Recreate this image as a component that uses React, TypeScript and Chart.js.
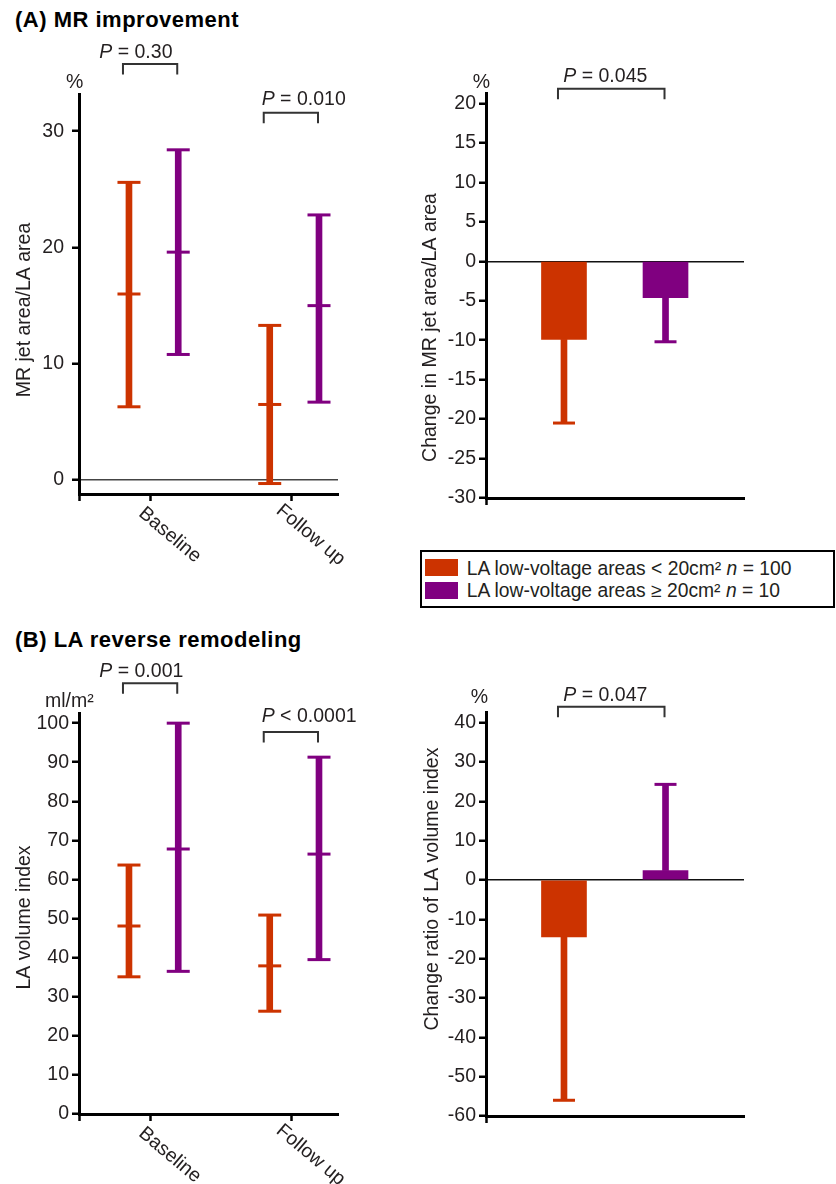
import React, { useEffect, useRef } from 'react';
import { Chart, registerables } from 'chart.js';

Chart.register(...registerables);

const FONT = "'Liberation Sans', Arial, Helvetica, sans-serif";
const ORANGE = '#cc3300';
const PURPLE = '#800080';
const INK = '#231f20';
const TEXT_SIZE = 19.5;

// ---------- data ----------
const timepoints = ['Baseline', 'Follow up'];
const groupLabels = ['LA low-voltage areas < 20cm\u00b2', 'LA low-voltage areas \u2265 20cm\u00b2'];
const groupN = [100, 10];

// (A) MR jet area / LA area (%), mean with SD range
const mrLowMean = [16.0, 6.5];
const mrLowUpper = [25.6, 13.3];
const mrLowLower = [6.3, -0.3];
const mrHighMean = [19.6, 15.0];
const mrHighUpper = [28.4, 22.8];
const mrHighLower = [10.8, 6.7];
const mrPValues = ['= 0.30', '= 0.010'];

// (A) change in MR jet area / LA area (%)
const mrChangeMean = [-9.9, -4.6];
const mrChangeErrEnd = [-20.5, -10.2];
const mrChangeP = '= 0.045';

// (B) LA volume index (ml/m2)
const laviLowMean = [48.1, 37.9];
const laviLowUpper = [63.7, 50.9];
const laviLowLower = [35.1, 26.3];
const laviHighMean = [67.8, 66.5];
const laviHighUpper = [100.0, 91.3];
const laviHighLower = [36.5, 39.5];
const laviPValues = ['= 0.001', '< 0.0001'];

// (B) change ratio of LA volume index (%)
const laviChangeMean = [-14.5, 2.4];
const laviChangeErrEnd = [-56.0, 24.3];
const laviChangeP = '= 0.047';

// tick labels
const mrTicks = [0, 10, 20, 30];
const mrChangeTicks = [20, 15, 10, 5, 0, -5, -10, -15, -20, -25, -30];
const laviTicks = [0, 10, 20, 30, 40, 50, 60, 70, 80, 90, 100];
const laviChangeTicks = [40, 30, 20, 10, 0, -10, -20, -30, -40, -50, -60];

// ---------- layout / style ----------
const LOW_OFFSET = -0.155;
const HIGH_OFFSET = 0.195;

type Box = { x: number; y: number; w: number; h: number };
type Area = { l: number; t: number; r: number; b: number };
type Bracket = { from: number; to: number; top: number; textX: number; textY: number; label: string };
type PanelSpec = {
  canvas: Box;
  area: Area;
  xMin: number;
  xMax: number;
  xTicks: number[];
  yMin: number;
  yMax: number;
  yTicks: number[];
  tickPadding: number;
  zeroLine: string | null;
  datasets: any[];
  yTitle: string;
  yTitleAt: [number, number];
  unit: string;
  unitAt: [number, number];
  brackets: Bracket[];
  categories: { at: number; text: string }[];
};

function rangeDatasets(lower: number[], mean: number[], upper: number[], offset: number, color: string) {
  const xs = timepoints.map((_, i) => i + 1 + offset);
  return [
    {
      type: 'bar',
      data: xs.map((x, i) => ({ x, y: [lower[i], upper[i]] })),
      backgroundColor: color,
      barThickness: 6,
      maxBarThickness: 6,
      grouped: false,
      borderWidth: 0,
      order: 2,
      clip: false,
    },
    {
      type: 'scatter',
      data: xs.flatMap((x, i) => [
        { x, y: upper[i] },
        { x, y: mean[i] },
        { x, y: lower[i] },
      ]),
      pointStyle: 'line',
      pointRadius: 11.5,
      pointBorderWidth: 3,
      pointBorderColor: color,
      pointBackgroundColor: color,
      order: 1,
      clip: false,
    },
  ];
}

function changeDatasets(mean: number[], errEnd: number[]) {
  const xs = [1, 2];
  const colors = [ORANGE, PURPLE];
  return [
    {
      type: 'bar',
      data: xs.map((x, i) => ({ x, y: mean[i] })),
      backgroundColor: colors,
      barThickness: 45,
      maxBarThickness: 45,
      grouped: false,
      borderWidth: 0,
      order: 3,
    },
    {
      type: 'bar',
      data: xs.map((x, i) => ({ x, y: [mean[i], errEnd[i]] })),
      backgroundColor: colors,
      barThickness: 6,
      maxBarThickness: 6,
      grouped: false,
      borderWidth: 0,
      order: 2,
      clip: false,
    },
    {
      type: 'scatter',
      data: xs.map((x, i) => ({ x, y: errEnd[i] })),
      pointStyle: 'line',
      pointRadius: 11,
      pointBorderWidth: 3,
      pointBorderColor: colors,
      pointBackgroundColor: colors,
      order: 1,
      clip: false,
    },
  ];
}

const LEFT_X = { xMin: 0.49, xMax: 2.33 };
const RIGHT_X = { xMin: 0.232, xMax: 2.773 };

const panels: PanelSpec[] = [
  {
    canvas: { x: 0, y: 30, w: 400, h: 550 },
    area: { l: 79, t: 94, r: 338, b: 494 },
    ...LEFT_X,
    xTicks: [LEFT_X.xMin, 1, 2],
    yMin: -1.2,
    yMax: 33.2,
    yTicks: mrTicks,
    tickPadding: 8,
    zeroLine: '#444444',
    datasets: [
      ...rangeDatasets(mrLowLower, mrLowMean, mrLowUpper, LOW_OFFSET, ORANGE),
      ...rangeDatasets(mrHighLower, mrHighMean, mrHighUpper, HIGH_OFFSET, PURPLE),
    ],
    yTitle: 'MR jet area/LA area',
    yTitleAt: [25, 310],
    unit: '%',
    unitAt: [66, 88],
    brackets: [
      { from: 1 + LOW_OFFSET, to: 1 + HIGH_OFFSET, top: 64, textX: 99.3, textY: 58.3, label: mrPValues[0] },
      { from: 2 + LOW_OFFSET, to: 2 + HIGH_OFFSET, top: 112.7, textX: 261.7, textY: 105, label: mrPValues[1] },
    ],
    categories: timepoints.map((t, i) => ({ at: i + 1, text: t })),
  },
  {
    canvas: { x: 400, y: 40, w: 436, h: 500 },
    area: { l: 486, t: 93, r: 744, b: 498 },
    ...RIGHT_X,
    xTicks: [RIGHT_X.xMin],
    yMin: -30,
    yMax: 21.33,
    yTicks: mrChangeTicks,
    tickPadding: 3,
    zeroLine: '#111111',
    datasets: changeDatasets(mrChangeMean, mrChangeErrEnd),
    yTitle: 'Change in MR jet area/LA area',
    yTitleAt: [430.5, 327.5],
    unit: '%',
    unitAt: [472.7, 88.3],
    brackets: [{ from: 1, to: 2, top: 88.7, textX: 563.3, textY: 81.7, label: mrChangeP }],
    categories: [],
  },
  {
    canvas: { x: 0, y: 650, w: 400, h: 534 },
    area: { l: 79, t: 713, r: 338, b: 1114 },
    ...LEFT_X,
    xTicks: [LEFT_X.xMin, 1, 2],
    yMin: 0,
    yMax: 102.6,
    yTicks: laviTicks,
    tickPadding: 3,
    zeroLine: null,
    datasets: [
      ...rangeDatasets(laviLowLower, laviLowMean, laviLowUpper, LOW_OFFSET, ORANGE),
      ...rangeDatasets(laviHighLower, laviHighMean, laviHighUpper, HIGH_OFFSET, PURPLE),
    ],
    yTitle: 'LA volume index',
    yTitleAt: [25, 917.5],
    unit: 'ml/m\u00b2',
    unitAt: [45, 707.3],
    brackets: [
      { from: 1 + LOW_OFFSET, to: 1 + HIGH_OFFSET, top: 683.3, textX: 99.3, textY: 676.7, label: laviPValues[0] },
      { from: 2 + LOW_OFFSET, to: 2 + HIGH_OFFSET, top: 732, textX: 261.7, textY: 722.3, label: laviPValues[1] },
    ],
    categories: timepoints.map((t, i) => ({ at: i + 1, text: t })),
  },
  {
    canvas: { x: 400, y: 650, w: 436, h: 534 },
    area: { l: 486, t: 712, r: 744, b: 1116 },
    ...RIGHT_X,
    xTicks: [RIGHT_X.xMin],
    yMin: -60,
    yMax: 42.7,
    yTicks: laviChangeTicks,
    tickPadding: 3,
    zeroLine: '#111111',
    datasets: changeDatasets(laviChangeMean, laviChangeErrEnd),
    yTitle: 'Change ratio of LA volume index',
    yTitleAt: [433, 889],
    unit: '%',
    unitAt: [470.7, 703.3],
    brackets: [{ from: 1, to: 2, top: 706.7, textX: 563.3, textY: 700.7, label: laviChangeP }],
    categories: [],
  },
];

function makeAnnotator(spec: PanelSpec) {
  return {
    id: 'annotator',
    afterDraw(chart: any) {
      const ctx = chart.ctx as CanvasRenderingContext2D;
      const ox = spec.canvas.x;
      const oy = spec.canvas.y;
      const xs = chart.scales.x;
      const area = chart.chartArea;
      const regular = `${TEXT_SIZE}px ${FONT}`;
      ctx.save();
      ctx.fillStyle = INK;
      ctx.font = regular;

      // y-axis title
      ctx.save();
      ctx.translate(spec.yTitleAt[0] - ox, spec.yTitleAt[1] - oy);
      ctx.rotate(-Math.PI / 2);
      ctx.textAlign = 'center';
      ctx.textBaseline = 'middle';
      ctx.fillText(spec.yTitle, 0, 0);
      ctx.restore();

      // unit label
      ctx.textAlign = 'left';
      ctx.textBaseline = 'alphabetic';
      ctx.fillText(spec.unit, spec.unitAt[0] - ox, spec.unitAt[1] - oy);

      // rotated category labels
      spec.categories.forEach((c) => {
        const px = xs.getPixelForValue(c.at);
        ctx.save();
        ctx.translate(px + 19, area.bottom + 41);
        ctx.rotate((40 * Math.PI) / 180);
        ctx.textAlign = 'center';
        ctx.textBaseline = 'middle';
        ctx.fillText(c.text, 0, 0);
        ctx.restore();
      });

      // significance brackets
      spec.brackets.forEach((b) => {
        const x1 = xs.getPixelForValue(b.from) - 6;
        const x2 = xs.getPixelForValue(b.to) - 1;
        const top = b.top - oy;
        ctx.strokeStyle = '#333333';
        ctx.lineWidth = 2;
        ctx.beginPath();
        ctx.moveTo(x1, top + 10.5);
        ctx.lineTo(x1, top);
        ctx.lineTo(x2, top);
        ctx.lineTo(x2, top + 10.5);
        ctx.stroke();
        const tx = b.textX - ox;
        const ty = b.textY - oy;
        ctx.textAlign = 'left';
        ctx.textBaseline = 'alphabetic';
        ctx.font = `italic ${TEXT_SIZE}px ${FONT}`;
        ctx.fillText('P', tx, ty);
        const w = ctx.measureText('P').width;
        ctx.font = regular;
        ctx.fillText(' ' + b.label, tx + w, ty);
      });
      ctx.restore();
    },
  };
}

function buildConfig(spec: PanelSpec): any {
  const { canvas, area } = spec;
  return {
    type: 'bar',
    data: { datasets: spec.datasets },
    options: {
      responsive: false,
      maintainAspectRatio: false,
      animation: false,
      events: [],
      layout: {
        padding: {
          top: area.t - canvas.y,
          right: canvas.x + canvas.w - area.r,
          left: 0,
          bottom: 0,
        },
      },
      plugins: {
        legend: { display: false },
        tooltip: { enabled: false },
        title: { display: false },
      },
      scales: {
        x: {
          type: 'linear',
          min: spec.xMin,
          max: spec.xMax,
          offset: false,
          afterBuildTicks: (s: any) => {
            s.ticks = spec.xTicks.map((v) => ({ value: v }));
          },
          afterFit: (s: any) => {
            s.height = canvas.y + canvas.h - area.b;
          },
          ticks: { display: false },
          grid: {
            display: true,
            offset: false,
            drawOnChartArea: false,
            drawTicks: true,
            tickLength: 7,
            tickColor: '#000000',
            tickWidth: 2.5,
          },
          border: { display: true, color: '#000000', width: 3 },
        },
        y: {
          type: 'linear',
          min: spec.yMin,
          max: spec.yMax,
          afterBuildTicks: (s: any) => {
            s.ticks = spec.yTicks.map((v) => ({ value: v }));
          },
          afterFit: (s: any) => {
            s.width = area.l - canvas.x;
          },
          ticks: {
            autoSkip: false,
            color: INK,
            padding: spec.tickPadding,
            font: { family: FONT, size: TEXT_SIZE },
            callback: (v: number) => String(v),
          },
          grid: {
            display: true,
            drawOnChartArea: !!spec.zeroLine,
            drawTicks: true,
            tickLength: 7,
            tickColor: '#000000',
            tickWidth: 2.5,
            lineWidth: 1.5,
            color: (c: any) =>
              spec.zeroLine && c.tick && c.tick.value === 0 ? spec.zeroLine : 'rgba(0,0,0,0)',
          },
          border: { display: true, color: '#000000', width: 3 },
        },
      },
    },
    plugins: [makeAnnotator(spec)],
  };
}

function Panel({ spec }: { spec: PanelSpec }) {
  const ref = useRef<HTMLCanvasElement | null>(null);
  useEffect(() => {
    if (!ref.current) return;
    const chart = new Chart(ref.current, buildConfig(spec));
    return () => chart.destroy();
  }, [spec]);
  return (
    <canvas
      ref={ref}
      width={spec.canvas.w}
      height={spec.canvas.h}
      style={{
        position: 'absolute',
        left: spec.canvas.x,
        top: spec.canvas.y,
        width: spec.canvas.w,
        height: spec.canvas.h,
      }}
    />
  );
}

const titleStyle: React.CSSProperties = {
  position: 'absolute',
  left: 15,
  font: `bold 22px ${FONT}`,
  letterSpacing: '0.5px',
  lineHeight: '26px',
  color: '#000000',
  whiteSpace: 'nowrap',
};

const legendText: React.CSSProperties = {
  position: 'absolute',
  left: 44.7,
  font: `19.3px ${FONT}`,
  lineHeight: '22px',
  color: INK,
  whiteSpace: 'nowrap',
};

export default function App() {
  const swatchColors = [ORANGE, PURPLE];
  return (
    <div
      style={{
        position: 'absolute',
        left: 0,
        top: 0,
        width: 836,
        height: 1184,
        background: '#ffffff',
        overflow: 'hidden',
        fontFamily: FONT,
      }}
    >
      <div style={{ ...titleStyle, top: 6.9 }}>(A) MR improvement</div>
      <div style={{ ...titleStyle, top: 626.7 }}>(B) LA reverse remodeling</div>
      {panels.map((p, i) => (
        <Panel key={i} spec={p} />
      ))}
      <div
        style={{
          position: 'absolute',
          left: 420,
          top: 550,
          width: 415,
          height: 58,
          border: '2px solid #000000',
          boxSizing: 'border-box',
        }}
      >
        {groupLabels.map((label, i) => (
          <React.Fragment key={i}>
            <div
              style={{
                position: 'absolute',
                left: 3,
                top: 7.3 + i * 22.4,
                width: 33,
                height: 17,
                background: swatchColors[i],
              }}
            />
            <div style={{ ...legendText, top: 6.2 + i * 21.3 }}>
              {label + ' '}
              <i>n</i>
              {' = ' + groupN[i]}
            </div>
          </React.Fragment>
        ))}
      </div>
    </div>
  );
}
